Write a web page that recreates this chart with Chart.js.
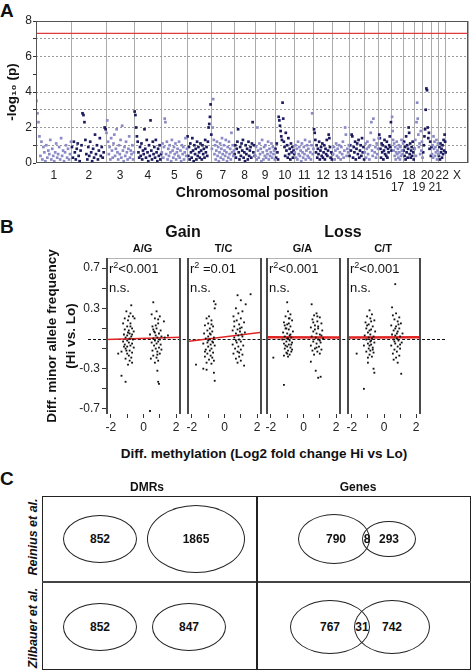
<!DOCTYPE html>
<html>
<head>
<meta charset="utf-8">
<script src="https://cdn.jsdelivr.net/npm/chart.js@4.4.1/dist/chart.umd.min.js"></script>
<style>
  html, body { margin: 0; padding: 0; background: #fff; }
  #page { position: relative; width: 472px; height: 671px; overflow: hidden;
          font-family: "Liberation Sans", Arial, sans-serif; color: #111; }
  #page canvas { position: absolute; z-index: 1; }
  .txt { position: absolute; white-space: nowrap; transform: translate(-50%, -50%); z-index: 2; }
  .note { position: absolute; white-space: nowrap; font-size: 13px; line-height: 13px; transform: translateY(-50%); z-index: 2; }
  .note sup { font-size: 9px; vertical-align: 5px; line-height: 0; }
  .letter { position: absolute; left: 0; font-weight: bold; font-size: 19px; transform: translateY(-50%); }
  .ell { position: absolute; border: 1px solid #222; border-radius: 50%; box-sizing: border-box; }
  .rowlab { position: absolute; white-space: nowrap; font-weight: bold; font-style: italic; font-size: 12.5px;
            transform: translate(-50%, -50%) rotate(-90deg); }
</style>
</head>
<body>
<div id="page">
  <div class="letter" style="top:11px">A</div>
  <canvas id="manhattan" width="472" height="205" style="left:0;top:0"></canvas>

  <div class="letter" style="top:227px">B</div>
  <div id="zeroLine" style="position:absolute;left:88px;width:357px;height:0;border-top:1px dashed #111;z-index:0"></div>
  <canvas id="pAG" width="146" height="200" style="left:40px;top:240px"></canvas>
  <canvas id="pTC" width="85" height="200" style="left:182px;top:240px"></canvas>
  <canvas id="pGA" width="85" height="200" style="left:261px;top:240px"></canvas>
  <canvas id="pCT" width="84" height="200" style="left:342px;top:240px"></canvas>

  <div class="letter" style="top:479px">C</div>
</div>

<script>
// ---------- PANEL A DATA (Manhattan) ----------
const chrTickLabels = ["1", "2", "3", "4", "5", "6", "7", "8", "9", "10", "11", "12", "13", "14", "15", "16",
    ["", "17"], "18", ["", "19"], "20", ["", "21"], "22", "X"];
const chrLengths = [249, 243, 198, 191, 181, 171, 159, 146, 141, 136, 135, 134, 115, 107, 102, 90, 81, 78, 59, 63, 48, 51, 155];
const sigLine = 7.3;

const chr1 = [3.5,2.8,2.3,1.5,0.4,1.2,0.2,0.9,0.6,0.1,1.0,0.3,0.7,0.5,1.3,0.2,0.8,0.4,0.1,0.6,1.1,0.3,0.5,0.9,0.2,1.4,0.4,0.7,0.1,0.6,1.0,0.3,0.8,0.2,0.5,1.2];
const chr2 = [0.9,0.3,1.2,0.6,0.2,0.8,1.1,0.4,0.1,0.7,1.0,2.8,2.7,2.3,1.3,0.5,0.2,0.9,0.4,1.2,0.6,0.1,0.8,0.3,1.6,0.5,1.0,0.2,0.7,1.4,0.4,0.9,0.3,0.6,2.0,1.9];
const chr3 = [1.7,2.4,1.2,0.5,0.9,0.2,1.4,0.7,0.3,1.1,1.6,0.4,0.8,1.9,0.6,0.2,1.0,0.5,1.3,0.3,2.1,0.7,0.1,0.9,0.4,1.2,0.6,0.2,0.8,1.5,0.3,0.7,0.5,1.0,0.2,0.6];
const chr4 = [2.9,2.7,2.0,1.5,1.2,0.6,0.3,0.9,0.4,1.1,0.2,0.7,0.5,1.9,0.8,0.3,1.3,0.6,0.1,1.0,0.4,2.4,0.7,0.2,1.2,0.5,0.9,0.3,1.3,0.6,0.1,0.8,0.4,1.0,0.2,0.5];
const chr5 = [0.6,1.1,0.3,0.9,2.5,2.3,0.5,1.2,0.2,0.8,0.4,1.0,0.6,0.1,1.3,0.7,0.3,0.9,0.5,1.1,0.2,0.6,0.8,0.4,1.2,0.3,0.7,0.1,1.0,0.5,0.9,0.2,0.6,1.4,0.4,0.8];
const chr6 = [1.5,0.4,0.9,0.2,1.1,0.6,0.3,1.4,0.7,0.1,1.0,0.5,0.8,0.2,1.2,0.4,0.9,0.6,0.3,1.1,0.7,0.2,1.0,0.5,0.8,0.3,1.3,0.6,0.9,0.4,1.2,2.0,2.2,2.6,3.3,1.6];
const chr7 = [0.8,2.0,3.6,1.3,0.5,1.0,0.2,0.7,1.2,0.4,0.9,0.1,0.6,1.1,0.3,0.8,1.4,0.5,0.2,1.0,0.7,0.4,1.3,0.6,0.1,0.9,0.3,1.2,0.5,0.8,0.2,1.7,0.6,1.0,0.4,0.7];
const chr8 = [0.5,1.0,0.3,0.8,1.2,1.9,0.6,0.2,0.9,0.4,1.1,0.7,1.3,0.3,0.6,0.1,1.0,0.5,0.8,0.2,1.2,0.4,0.7,0.9,0.3,1.1,2.3,0.6,1.0,0.4];
const chr9 = [0.4,0.9,0.2,2.0,0.7,0.3,1.1,0.5,0.8,0.1,1.3,0.6,0.2,0.9,0.4,1.0,0.3,0.7,0.5,1.2,0.2,0.8,0.4,0.6,1.1,0.3,0.9,0.5,0.7,0.2];
const chr10 = [0.8,0.3,1.1,0.6,0.2,2.6,2.4,2.1,1.8,1.5,1.3,3.4,2.5,1.2,0.9,0.4,1.7,0.7,1.0,0.3,1.4,0.5,0.8,0.2,1.1,0.6,0.9,0.3,0.7,0.5];
const chr11 = [0.6,1.0,0.3,0.8,0.2,1.2,0.5,0.9,0.4,0.7,0.1,1.1,0.6,0.3,0.9,0.5,1.3,0.2,0.7,1.0,0.4,0.8,0.3,1.2,0.6,0.2,1.0,2.8,0.5,0.8];
const chr12 = [1.9,1.7,1.3,0.6,1.0,0.3,0.8,0.5,1.2,0.2,0.7,0.9,0.4,1.1,0.3,0.6,1.0,0.2,0.8,0.5,1.3,0.4,0.7,1.6,1.4,0.9,0.3,0.6,0.2,0.5];
const chr13 = [0.5,0.9,0.2,0.7,1.1,0.4,0.8,0.3,1.0,0.6,0.2,0.9,0.5,1.2,0.3,0.7,2.0,1.6,0.4,0.8,0.6,1.0];
const chr14 = [0.4,1.0,0.7,1.6,1.5,0.3,0.9,0.6,1.2,0.2,0.8,1.1,0.5,1.3,0.3,0.7,1.0,0.4,1.4,0.6,0.9,0.2];
const chr15 = [0.6,1.1,0.3,0.8,1.2,0.5,0.9,0.2,1.0,1.7,2.3,0.7,0.4,2.5,1.3,0.6,0.9,0.3,1.1,0.5,0.8,1.4];
const chr16 = [1.6,1.4,0.8,0.3,1.1,0.6,1.0,0.2,0.7,1.3,0.5,0.9,0.4,1.2,0.3,0.8,0.6,1.0,1.5,0.9,2.3,0.7];
const chr17 = [2.6,1.8,1.3,0.7,1.1,0.4,0.9,0.2,0.6,1.2,0.5,0.8,0.3,1.0,0.6,0.2,0.9,0.4,1.3,0.7,0.5,1.1];
const chr18 = [0.7,1.2,0.4,0.9,0.2,1.5,0.6,1.0,0.3,0.8,2.0,1.7,0.5,1.1,0.3,0.7,0.9,0.4,1.2,0.6,0.2,0.8];
const chr19 = [0.8,1.3,0.4,2.3,3.4,2.5,1.6,0.9,1.1,0.5,1.8,0.7,1.2,0.3];
const chr20 = [0.6,1.0,1.5,1.9,3.0,4.2,4.1,2.0,1.4,1.7,0.8,1.2,0.4,0.9];
const chr21 = [0.5,1.0,0.3,1.5,0.8,1.2,0.4,0.9,0.6,1.3,0.2,0.7,1.1,0.5];
const chr22 = [0.4,0.9,0.2,1.1,0.6,0.8,0.3,1.0,0.5,1.3,0.7,1.6,1.2,0.6];
const chrX = [];
const chrValues = [chr1, chr2, chr3, chr4, chr5, chr6, chr7, chr8, chr9, chr10, chr11, chr12,
    chr13, chr14, chr15, chr16, chr17, chr18, chr19, chr20, chr21, chr22, chrX];

// ---------- PANEL B DATA (allele freq vs methylation) ----------
const panelNames = ["A/G", "T/C", "G/A", "C/T"];
const panelR2 = ["r<sup>2</sup>&lt;0.001", "r<sup>2</sup> =0.01", "r<sup>2</sup>&lt;0.001", "r<sup>2</sup>&lt;0.001"];
const panelSig = ["n.s.", "n.s.", "n.s.", "n.s."];
const yTicksB = [-0.7, -0.5, -0.3, -0.1, 0.1, 0.3, 0.5, 0.7];
const yLabelsB = [0.7, 0.3, -0.3, -0.7];
const xTicksB = [-2, -1, 0, 1, 2];
// fitted line: y at x=-2.3 and at x=2.3
const fitLines = [[-0.01, 0.012], [-0.03, 0.062], [0.012, 0.01], [0.01, 0.012]];

const agPoints = [
    [-1.05,0.27],[-0.8,0.25],[-0.65,0.22],[-1.15,0.2],[-0.55,0.2],[-0.95,0.18],[-1.25,0.15],[-0.8,0.15],[-1.0,0.12],[-0.7,0.1],
    [-1.15,0.09],[-0.9,0.08],[-0.6,0.07],[-0.85,0.05],[-1.2,0.04],[-1.0,0.03],[-0.75,0.02],[-1.1,0.01],[-0.85,0.0],[-0.65,-0.01],
    [-1.0,-0.02],[-1.25,-0.03],[-0.9,-0.04],[-0.7,-0.05],[-1.15,-0.06],[-0.8,-0.07],[-1.0,-0.08],[-0.6,-0.09],[-1.1,-0.1],[-0.85,-0.12],
    [-1.35,-0.13],[-0.7,-0.14],[-1.0,-0.15],[-1.55,-0.15],[-0.9,-0.17],[-0.75,-0.19],[-1.1,-0.2],[-0.85,-0.22],[-0.7,-0.24],[-0.95,-0.26],
    [-1.35,-0.37],[-1.1,-0.43],[-0.8,0.12],[-1.2,-0.08],[-0.7,0.04],[-0.95,0.06],[-1.05,-0.12],[-0.9,0.22],[-0.75,0.33],
    [0.6,0.36],[0.8,0.27],[0.5,0.24],[1.0,0.22],[0.7,0.2],[1.25,0.17],[0.9,0.15],[0.55,0.12],[0.8,0.1],[1.05,0.08],
    [0.65,0.07],[0.95,0.05],[0.4,0.04],[0.75,0.03],[1.1,0.02],[0.85,0.01],[0.6,0.0],[1.0,-0.01],[0.7,-0.02],[1.3,0.01],
    [0.9,-0.03],[0.5,-0.04],[0.8,-0.05],[1.05,-0.06],[0.65,-0.07],[0.95,-0.09],[0.75,-0.1],[0.55,-0.12],[0.85,-0.13],[1.0,-0.15],
    [0.6,-0.17],[0.8,-0.19],[0.45,-0.2],[0.9,-0.22],[0.7,-0.24],[0.85,-0.32],[0.9,-0.43],[0.95,-0.45],[0.4,-0.72],[1.5,0.03],
    [0.75,0.13],[1.1,-0.11],[0.6,0.09],[0.85,-0.16],[0.7,0.06],[0.9,0.19]
];
const tcPoints = [
    [-0.65,0.37],[-0.55,0.34],[-0.6,0.3],[-0.95,0.22],[-1.1,0.2],[-0.8,0.18],[-1.0,0.15],[-1.2,0.13],[-0.7,0.12],[-0.9,0.1],
    [-1.05,0.08],[-0.75,0.07],[-1.25,0.05],[-0.85,0.04],[-1.0,0.02],[-0.65,0.01],[-1.15,0.0],[-0.9,-0.01],[-0.75,-0.03],[-1.05,-0.04],
    [-1.3,-0.05],[-0.85,-0.06],[-0.6,-0.07],[-1.0,-0.08],[-0.8,-0.1],[-1.15,-0.11],[-0.9,-0.12],[-0.7,-0.14],[-1.05,-0.15],[-0.85,-0.17],
    [-1.2,-0.18],[-0.75,-0.19],[-0.95,-0.21],[-0.65,-0.22],[-1.1,-0.24],[-0.8,-0.25],[-1.75,-0.26],[-1.3,-0.3],[-1.1,-0.31],[-0.65,-0.34],
    [-0.6,-0.42],[-0.9,0.05],[-1.0,-0.02],[-0.8,0.14],[-1.2,-0.13],[-0.7,-0.04],
    [0.8,0.43],[1.6,0.44],[1.0,0.38],[1.3,0.34],[0.7,0.3],[1.1,0.27],[0.85,0.25],[0.55,0.22],[1.0,0.2],[0.75,0.18],
    [1.2,0.16],[0.9,0.14],[0.6,0.12],[1.05,0.11],[0.8,0.09],[0.5,0.08],[0.95,0.07],[1.25,0.06],[0.7,0.05],[0.85,0.03],
    [1.1,0.02],[0.6,0.01],[0.9,-0.01],[1.0,-0.03],[0.75,-0.04],[0.5,-0.06],[1.15,-0.07],[0.85,-0.08],[0.65,-0.1],[1.0,-0.11],
    [0.8,-0.13],[0.55,-0.15],[1.1,-0.16],[0.9,-0.18],[0.7,-0.2],[1.0,-0.22],[0.8,-0.24],[1.2,-0.27],[0.95,0.1],[0.7,-0.02],
    [1.05,0.04],[0.9,-0.14],[0.6,0.17]
];
const gaPoints = [
    [-1.0,0.36],[-0.95,0.27],[-0.8,0.24],[-1.1,0.22],[-0.9,0.2],[-0.7,0.18],[-1.2,0.16],[-1.0,0.14],[-0.8,0.12],[-1.1,0.1],
    [-0.9,0.09],[-0.65,0.07],[-1.25,0.06],[-1.0,0.05],[-0.85,0.03],[-1.15,0.02],[-0.75,0.01],[-0.95,0.0],[-1.3,-0.01],[-0.85,-0.02],
    [-1.05,-0.03],[-0.7,-0.04],[-1.2,-0.05],[-0.9,-0.06],[-1.0,-0.08],[-0.8,-0.09],[-1.15,-0.1],[-0.95,-0.12],[-0.75,-0.13],[-1.05,-0.14],
    [-0.85,-0.16],[-1.2,-0.17],[-0.95,-0.18],[-0.7,-0.11],[-1.85,-0.19],[-1.2,-0.46],[-1.0,0.0],[-0.9,0.15],[-1.1,-0.07],[-0.8,0.04],
    [-1.0,-0.15],[-0.85,0.2],[-1.05,0.1],[-0.75,-0.06],[-1.15,0.13],
    [0.5,0.34],[0.8,0.25],[0.65,0.23],[1.0,0.21],[0.55,0.19],[0.85,0.17],[1.1,0.15],[0.7,0.13],[0.45,0.11],[0.9,0.1],
    [1.15,0.08],[0.6,0.07],[0.8,0.05],[1.0,0.04],[0.5,0.02],[0.75,0.01],[1.2,0.0],[0.9,-0.01],[0.6,-0.03],[1.05,-0.04],
    [0.8,-0.05],[0.45,-0.07],[0.95,-0.08],[0.7,-0.1],[1.1,-0.11],[0.55,-0.12],[0.85,-0.13],[1.0,-0.15],[0.65,-0.16],[0.45,-0.23],
    [0.75,-0.32],[0.9,-0.39],[1.05,-0.38],[0.7,0.09],[0.9,0.12],[1.0,-0.02],[0.6,0.16],[0.8,-0.09],[1.1,0.03],[0.85,0.22]
];
const ctPoints = [
    [-0.9,0.28],[-0.75,0.24],[-1.05,0.22],[-0.85,0.2],[-0.6,0.18],[-1.15,0.16],[-0.95,0.14],[-0.7,0.12],[-1.1,0.1],[-0.8,0.09],
    [-0.55,0.07],[-1.0,0.06],[-0.85,0.04],[-1.2,0.03],[-0.65,0.02],[-0.95,0.01],[-0.75,0.0],[-1.1,-0.01],[-0.85,-0.03],[-0.6,-0.04],
    [-1.0,-0.05],[-0.8,-0.06],[-1.25,-0.07],[-0.7,-0.09],[-0.95,-0.1],[-0.85,-0.12],[-1.1,-0.13],[-0.65,-0.14],[-0.9,-0.16],[-0.75,-0.18],
    [-1.0,-0.19],[-1.7,-0.15],[-1.0,-0.24],[-0.65,-0.3],[-0.6,-0.34],[-1.25,-0.5],[-0.9,0.08],[-0.8,-0.02],[-1.05,0.13],[-0.7,-0.11],
    [-0.9,-0.07],[-0.8,0.17],
    [0.7,0.54],[0.5,0.31],[0.75,0.25],[0.55,0.23],[0.95,0.21],[0.65,0.19],[0.85,0.17],[1.05,0.15],[0.45,0.13],[0.75,0.12],
    [0.95,0.1],[0.6,0.08],[0.85,0.07],[1.15,0.05],[0.5,0.04],[0.7,0.03],[1.0,0.02],[0.8,0.0],[0.6,-0.01],[0.9,-0.02],
    [1.1,-0.04],[0.7,-0.05],[0.45,-0.07],[0.85,-0.08],[1.0,-0.1],[0.65,-0.11],[0.8,-0.13],[0.55,-0.15],[0.95,-0.17],[0.75,-0.19],
    [0.6,-0.21],[0.85,-0.24],[1.07,-0.35],[0.8,0.05],[0.9,0.14],[0.65,-0.03],[1.0,-0.06],[0.7,0.1]
];

// ---------- PANEL C DATA (overlaps) ----------
const vennRows = ["Reinius et al.", "Zilbauer et al."];
const vennCols = ["DMRs", "Genes"];
const dmrReinius = [852, 1865];
const dmrZilbauer = [852, 847];
const geneReinius = [790, 8, 293];
const geneZilbauer = [767, 31, 742];


document.addEventListener("DOMContentLoaded", function () {

    const page = document.getElementById("page");
    Chart.defaults.font.family = '"Liberation Sans", Arial, sans-serif';
    Chart.defaults.color = "#111";

    function addText(html, x, y, css, cls) {
        const d = document.createElement("div");
        d.className = cls || "txt";
        d.innerHTML = html;
        d.style.left = x + "px";
        d.style.top = y + "px";
        if (css) d.style.cssText += css;
        page.appendChild(d);
        return d;
    }

    // ---------- PANEL A ----------
    const chrStarts = [];
    let acc = 0;
    chrLengths.forEach(len => { chrStarts.push(acc); acc += len; });
    const genomeLen = acc;
    const chrBounds = chrStarts.concat([genomeLen]);
    const chrCenters = chrStarts.map((s, i) => s + chrLengths[i] / 2);

    const lightPts = [], darkPts = [];
    chrValues.forEach((vals, c) => {
        const target = c % 2 === 0 ? lightPts : darkPts;
        vals.forEach((p, i) => {
            target.push({ x: chrStarts[c] + (i + 0.5) * chrLengths[c] / vals.length, y: p });
        });
    });

    const frameA = {
        id: "frameA",
        afterDatasetsDraw(chart) {
            const { ctx, chartArea: a } = chart;
            ctx.save();
            ctx.strokeStyle = "#555";
            ctx.lineWidth = 1;
            ctx.strokeRect(a.left + 0.5, a.top + 0.5, a.right - a.left - 1, a.bottom - a.top - 1);
            ctx.restore();
        }
    };

    new Chart(document.getElementById("manhattan"), {
        type: "scatter",
        data: {
            datasets: [
                { data: lightPts, backgroundColor: "#8a8ac6", pointStyle: "rect", pointRadius: 1.9, borderWidth: 0 },
                { data: darkPts, backgroundColor: "#1b1b5e", pointStyle: "rect", pointRadius: 1.9, borderWidth: 0 },
                { type: "line", data: [{ x: 0, y: sigLine }, { x: genomeLen, y: sigLine }],
                  borderColor: "#e23b3b", borderWidth: 1.3, pointRadius: 0 }
            ]
        },
        options: {
            responsive: false, animation: false, devicePixelRatio: 1,
            layout: { padding: { top: 21, right: 2, left: 0, bottom: 0 } },
            plugins: { legend: { display: false }, tooltip: { enabled: false } },
            scales: {
                xg: {
                    type: "linear", position: "bottom", min: 0, max: genomeLen,
                    afterBuildTicks: s => { s.ticks = chrBounds.map(v => ({ value: v })); },
                    afterFit: s => { s.height = 0; },
                    ticks: { display: false },
                    grid: { color: "#ababab", drawTicks: false },
                    border: { display: false }
                },
                x: {
                    type: "linear", position: "bottom", min: 0, max: genomeLen,
                    afterBuildTicks: s => { s.ticks = chrCenters.map(v => ({ value: v })); },
                    afterFit: s => { s.height = 42; },
                    ticks: {
                        autoSkip: false, maxRotation: 0, minRotation: 0, padding: 7, color: "#222",
                        font: { size: 12, lineHeight: 1 },
                        callback: (v, i) => chrTickLabels[i]
                    },
                    grid: { display: false, drawTicks: false },
                    border: { display: false },
                    title: { display: true, text: "Chromosomal position", color: "#111",
                             font: { size: 14, weight: "bold" }, padding: { top: 0, bottom: 3 } }
                },
                y: {
                    min: 0, max: 8,
                    afterFit: s => { s.width = 36; },
                    ticks: { stepSize: 1, padding: 1, color: "#222", font: { size: 12 },
                             callback: v => (v % 2 === 0 ? v : "") },
                    grid: {
                        color: ctx => ([1, 2, 3, 4, 6, 7].includes(ctx.tick.value) ? "#9a9a9a" : "rgba(0,0,0,0)"),
                        tickColor: "#333", tickLength: 3
                    },
                    border: { display: false, dash: [2, 2] },
                    title: { display: true, text: "-log\u2081\u2080 (p)", color: "#111",
                             font: { size: 13.5, weight: "bold" }, padding: { top: 4, bottom: 0 } }
                }
            }
        },
        plugins: [frameA]
    });

    // ---------- PANEL B ----------
    const boxB = {
        id: "boxB",
        afterDatasetsDraw(chart) {
            const { ctx, chartArea: a } = chart;
            ctx.save();
            ctx.strokeStyle = "#b5b5b5";
            ctx.lineWidth = 1;
            ctx.beginPath();
            ctx.moveTo(a.left, a.top + 0.5);
            ctx.lineTo(a.right, a.top + 0.5);
            ctx.stroke();
            ctx.strokeStyle = "#4a4a4a";
            ctx.lineWidth = 2;
            ctx.beginPath();
            ctx.moveTo(a.left + 1, a.top);
            ctx.lineTo(a.left + 1, a.bottom);
            ctx.moveTo(a.right - 1, a.top);
            ctx.lineTo(a.right - 1, a.bottom);
            ctx.stroke();
            ctx.restore();
        }
    };

    const panelData = [agPoints, tcPoints, gaPoints, ctPoints];
    const panelIds = ["pAG", "pTC", "pGA", "pCT"];
    const bCharts = [];

    panelIds.forEach((id, i) => {
        const first = i === 0;
        const fit = fitLines[i];
        const yScale = {
            display: first, min: -0.75, max: 0.8,
            afterBuildTicks: s => { s.ticks = yTicksB.map(v => ({ value: v })); },
            ticks: { autoSkip: false, padding: 2, color: "#222", font: { size: 12 },
                     callback: v => (yLabelsB.some(l => Math.abs(l - v) < 1e-6) ? v : "") },
            grid: { drawOnChartArea: false, tickLength: 4, color: "#333" },
            border: { display: false },
            title: { display: true, text: ["Diff. minor allele frequency", "(Hi vs. Lo)"], color: "#111",
                     font: { size: 13.5, weight: "bold", lineHeight: 1.4 }, padding: { top: 3, bottom: 0 } }
        };
        if (first) yScale.afterFit = s => { s.width = 66; };

        const chart = new Chart(document.getElementById(id), {
            type: "scatter",
            data: {
                datasets: [
                    { data: panelData[i].map(p => ({ x: p[0], y: p[1] })), backgroundColor: "#111",
                      pointStyle: "rect", pointRadius: 1.3, borderWidth: 0 },
                    { type: "line", data: [{ x: -2.3, y: fit[0] }, { x: 2.3, y: fit[1] }],
                      borderColor: "#e02424", borderWidth: i < 2 ? 1.6 : 2.4, pointRadius: 0 }
                ]
            },
            options: {
                responsive: false, animation: false, devicePixelRatio: 1,
                layout: { padding: { top: 18, right: 5, left: first ? 0 : 5, bottom: 0 } },
                plugins: { legend: { display: false }, tooltip: { enabled: false } },
                scales: {
                    x: {
                        type: "linear", min: -2.3, max: 2.3,
                        afterBuildTicks: s => { s.ticks = xTicksB.map(v => ({ value: v })); },
                        afterFit: s => { s.height = 26; },
                        ticks: { autoSkip: false, maxRotation: 0, padding: 2, color: "#222", font: { size: 12 },
                                 callback: v => (v % 2 === 0 ? v : "") },
                        grid: { drawOnChartArea: false, tickLength: 4, color: "#333" },
                        border: { display: false }
                    },
                    y: yScale
                }
            },
            plugins: [boxB]
        });
        bCharts.push(chart);

        // panel captions and stats placed from the chart's own area
        const cv = document.getElementById(id);
        const left = cv.offsetLeft + chart.chartArea.left;
        const right = cv.offsetLeft + chart.chartArea.right;
        addText(panelNames[i], (left + right) / 2 - 1, 248, "font-weight:bold;font-size:11px");
        addText(panelR2[i], left + 3, 268, "", "note");
        addText(panelSig[i], left + 3, 287, "", "note");
    });

    const zeroY = 240 + bCharts[0].scales.y.getPixelForValue(0);
    document.getElementById("zeroLine").style.top = zeroY + "px";

    addText("Gain", 183, 232, "font-weight:bold;font-size:16px");
    addText("Loss", 343, 232, "font-weight:bold;font-size:16px");
    addText("Diff. methylation (Log2 fold change Hi vs Lo)", 264, 453, "font-weight:bold;font-size:13.5px");

    // ---------- PANEL C ----------
    const box = document.createElement("div");
    box.style.cssText = "position:absolute;left:42px;top:496px;width:429px;height:174px;border:1.5px solid #222;box-sizing:border-box";
    page.appendChild(box);
    const hline = document.createElement("div");
    hline.style.cssText = "position:absolute;left:42px;top:581px;width:429px;height:2px;background:#444";
    page.appendChild(hline);
    const vline = document.createElement("div");
    vline.style.cssText = "position:absolute;left:256px;top:496px;width:2px;height:174px;background:#222";
    page.appendChild(vline);

    addText(vennCols[0], 147, 487, "font-weight:bold;font-size:12px");
    addText(vennCols[1], 358, 487, "font-weight:bold;font-size:12px");
    addText(vennRows[0], 33, 537, "", "rowlab");
    addText(vennRows[1], 33, 628, "", "rowlab");

    // ellipse layout: [cx, cy, rx, ry]
    const shapes = [
        [100, 539, 37, 24], [196, 539, 49, 34],
        [100, 627, 37, 24], [189, 627, 37, 24],
        [334, 539, 36, 25], [389, 539, 27, 18],
        [330, 627, 40, 27], [392, 627, 38, 27]
    ];
    shapes.forEach(s => {
        const e = document.createElement("div");
        e.className = "ell";
        e.style.cssText += `left:${s[0] - s[2]}px;top:${s[1] - s[3]}px;width:${2 * s[2]}px;height:${2 * s[3]}px`;
        page.appendChild(e);
    });

    const numCss = "font-weight:bold;font-size:12px";
    addText(dmrReinius[0], 100, 539, numCss);
    addText(dmrReinius[1], 196, 539, numCss);
    addText(dmrZilbauer[0], 100, 627, numCss);
    addText(dmrZilbauer[1], 189, 627, numCss);
    addText(geneReinius[0], 336, 539, numCss);
    addText(geneReinius[1], 367, 539, numCss);
    addText(geneReinius[2], 389, 539, numCss);
    addText(geneZilbauer[0], 330, 627, numCss);
    addText(geneZilbauer[1], 362, 627, numCss);
    addText(geneZilbauer[2], 392, 627, numCss);
});
</script>
</body>
</html>
